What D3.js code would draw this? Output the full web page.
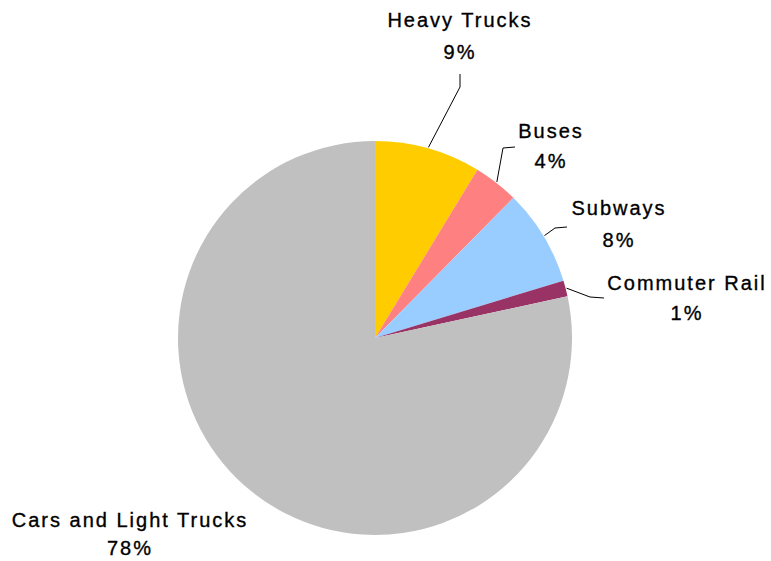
<!DOCTYPE html>
<html><head><meta charset="utf-8">
<script src="https://cdn.jsdelivr.net/npm/d3@7"></script>
<style>body{margin:0;background:#fff}svg{display:block}</style>
</head><body>
<script>
const categories = ["Heavy Trucks","Buses","Subways","Commuter Rail","Cars and Light Trucks"];
const values = [8.7, 3.7, 7.9, 1.3, 78.4];
const colors = ["#FFCC00","#FF8080","#99CCFF","#993366","#C0C0C0"];

const W = 771, H = 561, cx = 375, cy = 338, R = 197;
// label layout: label centre x, first baseline y, line gap, leader elbow and end (null = no leader)
const layout = [
  {x:460, y:27, gap:32, elbow:[460,87], end:[460,74]},
  {x:551, y:138, gap:30, elbow:[503,148], end:[515,147]},
  {x:619, y:215, gap:32, elbow:[555,228], end:[567,227]},
  {x:687, y:290, gap:30, elbow:[590,297], end:[604,298]},
  {x:130, y:527, gap:28, elbow:null, end:null}
];

const svg = d3.select("body").append("svg").attr("width", W).attr("height", H);
const g = svg.append("g").attr("transform", `translate(${cx},${cy})`);
const pie = d3.pie().sort(null).value(d => d)(values);
const arc = d3.arc().innerRadius(0).outerRadius(R);

g.selectAll("path.slice").data(pie).join("path")
  .attr("class","slice").attr("d", arc)
  .attr("fill", (d,i) => colors[i]);

pie.forEach((d,i) => {
  const L = layout[i];
  if (L.elbow) {
    const a = (d.startAngle + d.endAngle) / 2;
    const sx = cx + Math.sin(a) * (R + 1), sy = cy - Math.cos(a) * (R + 1);
    svg.append("polyline")
      .attr("points", [[sx,sy], L.elbow, L.end].map(p => p.join(",")).join(" "))
      .attr("fill","none").attr("stroke","#000").attr("stroke-width",1);
  }
  const t = svg.append("text").attr("text-anchor","middle")
    .attr("font-family","'Liberation Sans', Arial, sans-serif")
    .attr("font-size", 20).attr("letter-spacing", "2px").attr("fill","#000")
    .attr("stroke","#000").attr("stroke-width",0.35);
  t.append("tspan").attr("x", L.x).attr("y", L.y).text(categories[i]);
  t.append("tspan").attr("x", L.x).attr("y", L.y + L.gap).text(Math.round(d.data) + "%");
});
</script>
</body></html>
